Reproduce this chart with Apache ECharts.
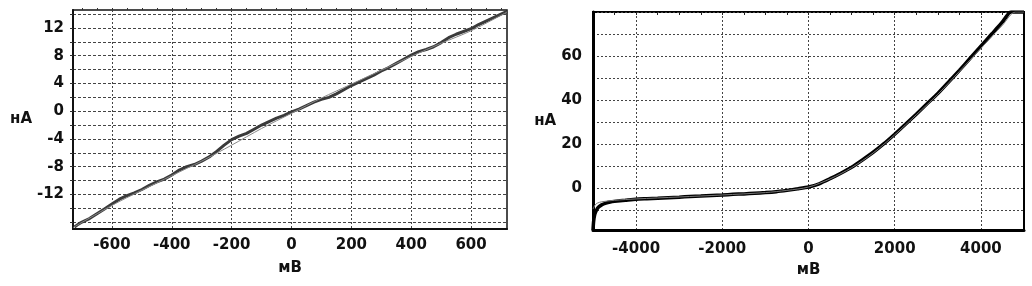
<!DOCTYPE html>
<html>
<head>
<meta charset="utf-8">
<script src="https://cdn.jsdelivr.net/npm/echarts@6/dist/echarts.min.js"></script>
<style>
  html, body { margin: 0; padding: 0; background: #fff; }
  #chart { width: 1032px; height: 286px; }
</style>
</head>
<body>
<div id="chart"></div>
<script>
// левый график: ВАХ, мВ / нА
var leftMeasured = [
  [-725, -16.7], [-712, -16.3], [-700, -16.0], [-675, -15.5], [-650, -14.8],
  [-625, -14.1], [-600, -13.4], [-575, -12.7], [-550, -12.2], [-525, -11.8],
  [-500, -11.3], [-475, -10.7], [-450, -10.2], [-425, -9.8], [-400, -9.2],
  [-375, -8.5], [-350, -8.0], [-325, -7.7], [-300, -7.2], [-275, -6.6],
  [-250, -5.8], [-225, -4.9], [-200, -4.1], [-175, -3.6], [-150, -3.2],
  [-125, -2.6], [-100, -2.0], [-75, -1.5], [-50, -1.0], [-25, -0.6],
  [0, -0.1], [25, 0.3], [50, 0.8], [75, 1.3], [100, 1.7],
  [125, 2.0], [150, 2.5], [175, 3.1], [200, 3.7], [225, 4.2],
  [250, 4.7], [275, 5.2], [300, 5.8], [325, 6.3], [350, 6.9],
  [375, 7.5], [400, 8.1], [425, 8.6], [450, 8.9], [475, 9.3],
  [500, 9.9], [525, 10.6], [550, 11.1], [575, 11.5], [600, 11.9],
  [625, 12.5], [650, 13.0], [675, 13.5], [700, 14.0], [720, 14.4]
];
var leftFit = [
  [-730, -16.8], [-600, -13.6], [-500, -11.4], [-400, -9.3], [-300, -7.2],
  [-200, -4.9], [-100, -2.5], [0, -0.3], [100, 1.9], [200, 3.9],
  [300, 5.9], [400, 7.9], [500, 9.8], [600, 11.6], [720, 14.3]
];
var leftXLabels = [-600, -400, -200, 0, 200, 400, 600];
var leftXMinor = [-700, -650, -600, -550, -500, -450, -400, -350, -300, -250, -200, -150, -100, -50,
  0, 50, 100, 150, 200, 250, 300, 350, 400, 450, 500, 550, 600, 650, 700];
var leftYTicks = [-16, -14, -12, -10, -8, -6, -4, -2, 0, 2, 4, 6, 8, 10, 12, 14];
var leftYLabels = [-12, -8, -4, 0, 4, 8, 12];

// правый график
var rightMeasured = [
  [-5000, -19], [-4985, -15], [-4960, -12], [-4920, -10], [-4870, -8.6],
  [-4800, -7.6], [-4700, -6.8], [-4600, -6.3], [-4500, -6.0], [-4250, -5.5],
  [-4000, -5.0], [-3750, -4.8], [-3500, -4.6], [-3250, -4.3], [-3000, -4.1],
  [-2750, -3.8], [-2500, -3.6], [-2250, -3.3], [-2000, -3.1], [-1750, -2.8],
  [-1500, -2.6], [-1250, -2.3], [-1000, -2.0], [-750, -1.6], [-500, -1.0],
  [-250, -0.3], [0, 0.5], [250, 2.0], [500, 4.3], [750, 6.8],
  [1000, 9.5], [1250, 12.8], [1500, 16.3], [1750, 20.2], [2000, 24.5],
  [2250, 29.0], [2500, 33.6], [2750, 38.3], [3000, 43.0], [3250, 48.2],
  [3500, 53.5], [3750, 59.0], [4000, 64.5], [4250, 70.0], [4500, 75.5],
  [4650, 79.5], [4700, 80], [5000, 80]
];
var rightFit = [
  [-5000, -9.5], [-4950, -7.6], [-4900, -6.8], [-4800, -6.2], [-4500, -5.5],
  [-4000, -4.9], [-3000, -4.0], [-2000, -3.1], [-1000, -2.0], [-500, -1.0],
  [0, 0.5], [500, 4.2], [1000, 9.3], [1500, 16.0], [2000, 24.2],
  [2500, 33.3], [3000, 42.6], [3500, 53.0], [4000, 63.5], [4500, 74.0],
  [4800, 80], [5000, 80]
];
var rightXLabels = [-4000, -2000, 0, 2000, 4000];
var rightXMinor = [-4500, -4000, -3500, -3000, -2500, -2000, -1500, -1000, -500,
  0, 500, 1000, 1500, 2000, 2500, 3000, 3500, 4000, 4500];
var rightYTicks = [-10, 0, 10, 20, 30, 40, 50, 60, 70, 80];
var rightYLabels = [0, 20, 40, 60];

var font = { fontFamily: 'DejaVu Sans', fontWeight: 'bold', fontSize: 15, color: '#111' };
var gridDot = { show: true, lineStyle: { color: '#444', width: 1, type: [2, 2] } };
function plain(v) { return String(v); }

var chart = echarts.init(document.getElementById('chart'));
chart.setOption({
  animation: false,
  backgroundColor: '#fff',
  grid: [
    { left: 73, right: 525, top: 10, bottom: 57, show: true, borderColor: '#111', borderWidth: 1.5, backgroundColor: '#fff' },
    { left: 593, right: 8, top: 12, bottom: 56, show: true, borderColor: '#000', borderWidth: 2, backgroundColor: '#fff' }
  ],
  xAxis: [
    {
      gridIndex: 0, type: 'value', min: -730, max: 720,
      name: 'мВ', nameLocation: 'middle', nameGap: 32, nameTextStyle: font,
      axisLine: { onZero: false, lineStyle: { color: '#111', width: 2 } },
      axisTick: { show: false, customValues: leftXLabels },
      axisLabel: Object.assign({ margin: 9, customValues: leftXLabels, formatter: plain }, font),
      splitLine: gridDot
    },
    {
      gridIndex: 0, type: 'value', min: -730, max: 720,
      axisLine: { show: false, onZero: false },
      axisTick: { show: true, length: 2, customValues: leftXMinor, lineStyle: { color: '#333' } },
      axisLabel: { show: false }, splitLine: { show: false }
    },
    {
      gridIndex: 1, type: 'value', min: -5000, max: 5000,
      name: 'мВ', nameLocation: 'middle', nameGap: 33, nameTextStyle: font,
      axisLine: { onZero: false, lineStyle: { color: '#000', width: 3 } },
      axisTick: { show: false, customValues: rightXLabels },
      axisLabel: Object.assign({ margin: 12, customValues: rightXLabels, formatter: plain }, font),
      splitLine: gridDot
    },
    {
      gridIndex: 1, type: 'value', min: -5000, max: 5000,
      axisLine: { show: false, onZero: false },
      axisTick: { show: true, inside: true, length: 3, customValues: rightXMinor, lineStyle: { color: '#222' } },
      axisLabel: { show: false }, splitLine: { show: false }
    }
  ],
  yAxis: [
    {
      gridIndex: 0, type: 'value', min: -17, max: 14.6,
      name: 'нА', nameLocation: 'middle', nameRotate: 0, nameGap: 38, nameTextStyle: font,
      axisLine: { show: true, onZero: false, lineStyle: { color: '#111', width: 2 } },
      axisTick: { show: true, length: 3, customValues: leftYTicks, lineStyle: { color: '#333' } },
      axisLabel: Object.assign({ margin: 9, customValues: leftYLabels, formatter: plain }, font),
      splitLine: { show: true, lineStyle: { color: '#444', width: 1, type: [3, 2] } }
    },
    {
      gridIndex: 1, type: 'value', min: -19, max: 80,
      name: 'нА', nameLocation: 'middle', nameRotate: 0, nameGap: 34, nameTextStyle: font,
      axisLine: { show: true, onZero: false, lineStyle: { color: '#000', width: 3 } },
      axisTick: { show: false, customValues: rightYTicks },
      axisLabel: Object.assign({ margin: 11, customValues: rightYLabels, formatter: plain }, font),
      splitLine: gridDot
    }
  ],
  series: [
    {
      type: 'line', xAxisIndex: 0, yAxisIndex: 0, data: leftFit,
      showSymbol: false, smooth: 0.3, lineStyle: { color: '#888', width: 1 }, z: 3
    },
    {
      type: 'line', xAxisIndex: 0, yAxisIndex: 0, data: leftMeasured,
      showSymbol: false, lineStyle: { color: '#3a3a3a', width: 3 }, z: 2
    },
    {
      type: 'line', xAxisIndex: 2, yAxisIndex: 1, data: rightMeasured,
      showSymbol: false, smooth: 0.2, lineStyle: { color: '#000', width: 3.5 }, z: 2
    },
    {
      type: 'line', xAxisIndex: 2, yAxisIndex: 1, data: rightFit,
      showSymbol: false, smooth: 0.3, lineStyle: { color: '#777', width: 1 }, z: 3
    }
  ]
});
</script>
</body>
</html>
